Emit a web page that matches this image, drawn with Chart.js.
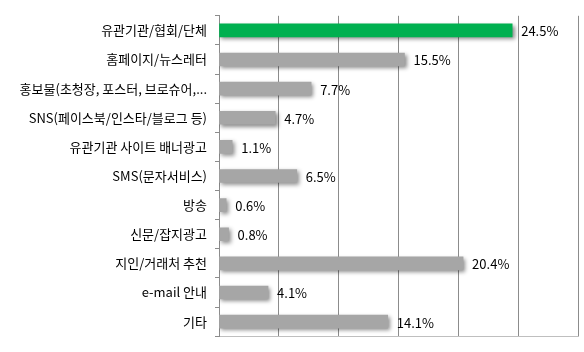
<!DOCTYPE html>
<html>
<head>
<meta charset="utf-8">
<script src="https://cdn.jsdelivr.net/npm/chart.js@4"></script>
<style>
  html, body { margin: 0; padding: 0; background: #fff; }
  #wrap { width: 584px; height: 352px; }
</style>
</head>
<body>
<div id="wrap"><canvas id="chart" width="584" height="352"></canvas></div>
<script>
const categories = [
    '유관기관/협회/단체',
    '홈페이지/뉴스레터',
    '홍보물(초청장, 포스터, 브로슈어,...',
    'SNS(페이스북/인스타/블로그 등)',
    '유관기관 사이트 배너광고',
    'SMS(문자서비스)',
    '방송',
    '신문/잡지광고',
    '지인/거래처 추천',
    'e-mail 안내',
    '기타'
];
const values = [24.5, 15.5, 7.7, 4.7, 1.1, 6.5, 0.6, 0.8, 20.4, 4.1, 14.1];
const barColors = values.map((v, i) => i === 0 ? '#00B050' : '#A6A6A6');

const FONT = "'Noto Sans CJK KR', 'Noto Sans', sans-serif";

// Soft drop shadow under bars
const shadowPlugin = {
    id: 'barShadow',
    beforeDatasetsDraw(chart) {
        const c = chart.ctx;
        c.save();
        c.shadowColor = 'rgba(0,0,0,0.45)';
        c.shadowBlur = 4;
        c.shadowOffsetX = 2;
        c.shadowOffsetY = 2;
    },
    afterDatasetsDraw(chart) {
        chart.ctx.restore();
    }
};

// Value labels at the end of each bar
const valueLabels = {
    id: 'valueLabels',
    afterDatasetsDraw(chart) {
        const c = chart.ctx;
        const meta = chart.getDatasetMeta(0);
        c.save();
        c.font = '13px ' + FONT;
        c.fillStyle = '#000';
        c.textAlign = 'left';
        c.textBaseline = 'middle';
        meta.data.forEach((bar, i) => {
            c.fillText(values[i].toFixed(1) + '%', bar.x + 9, bar.y + 1);
        });
        c.restore();
    }
};

new Chart(document.getElementById('chart'), {
    type: 'bar',
    data: {
        labels: categories,
        datasets: [{
            data: values,
            backgroundColor: barColors,
            borderWidth: 0,
            barThickness: 13
        }]
    },
    options: {
        indexAxis: 'y',
        responsive: false,
        animation: false,
        layout: { padding: { left: 5, top: 8, right: 6, bottom: 8 } },
        plugins: {
            legend: { display: false },
            tooltip: { enabled: false }
        },
        scales: {
            x: {
                min: 0,
                max: 30,
                ticks: { display: false, stepSize: 5 },
                grid: { color: '#8c8c8c', drawTicks: false },
                border: { display: true, color: '#bfbfbf' }
            },
            y: {
                afterFit(scale) { scale.width = 214; },
                ticks: {
                    color: '#000',
                    font: { family: FONT, size: 13 },
                    padding: 8,
                    autoSkip: false
                },
                grid: { drawOnChartArea: false, drawTicks: true, tickLength: 4, color: '#8c8c8c' },
                border: { display: true, color: '#8c8c8c' }
            }
        }
    },
    plugins: [shadowPlugin, valueLabels]
});
</script>
</body>
</html>
